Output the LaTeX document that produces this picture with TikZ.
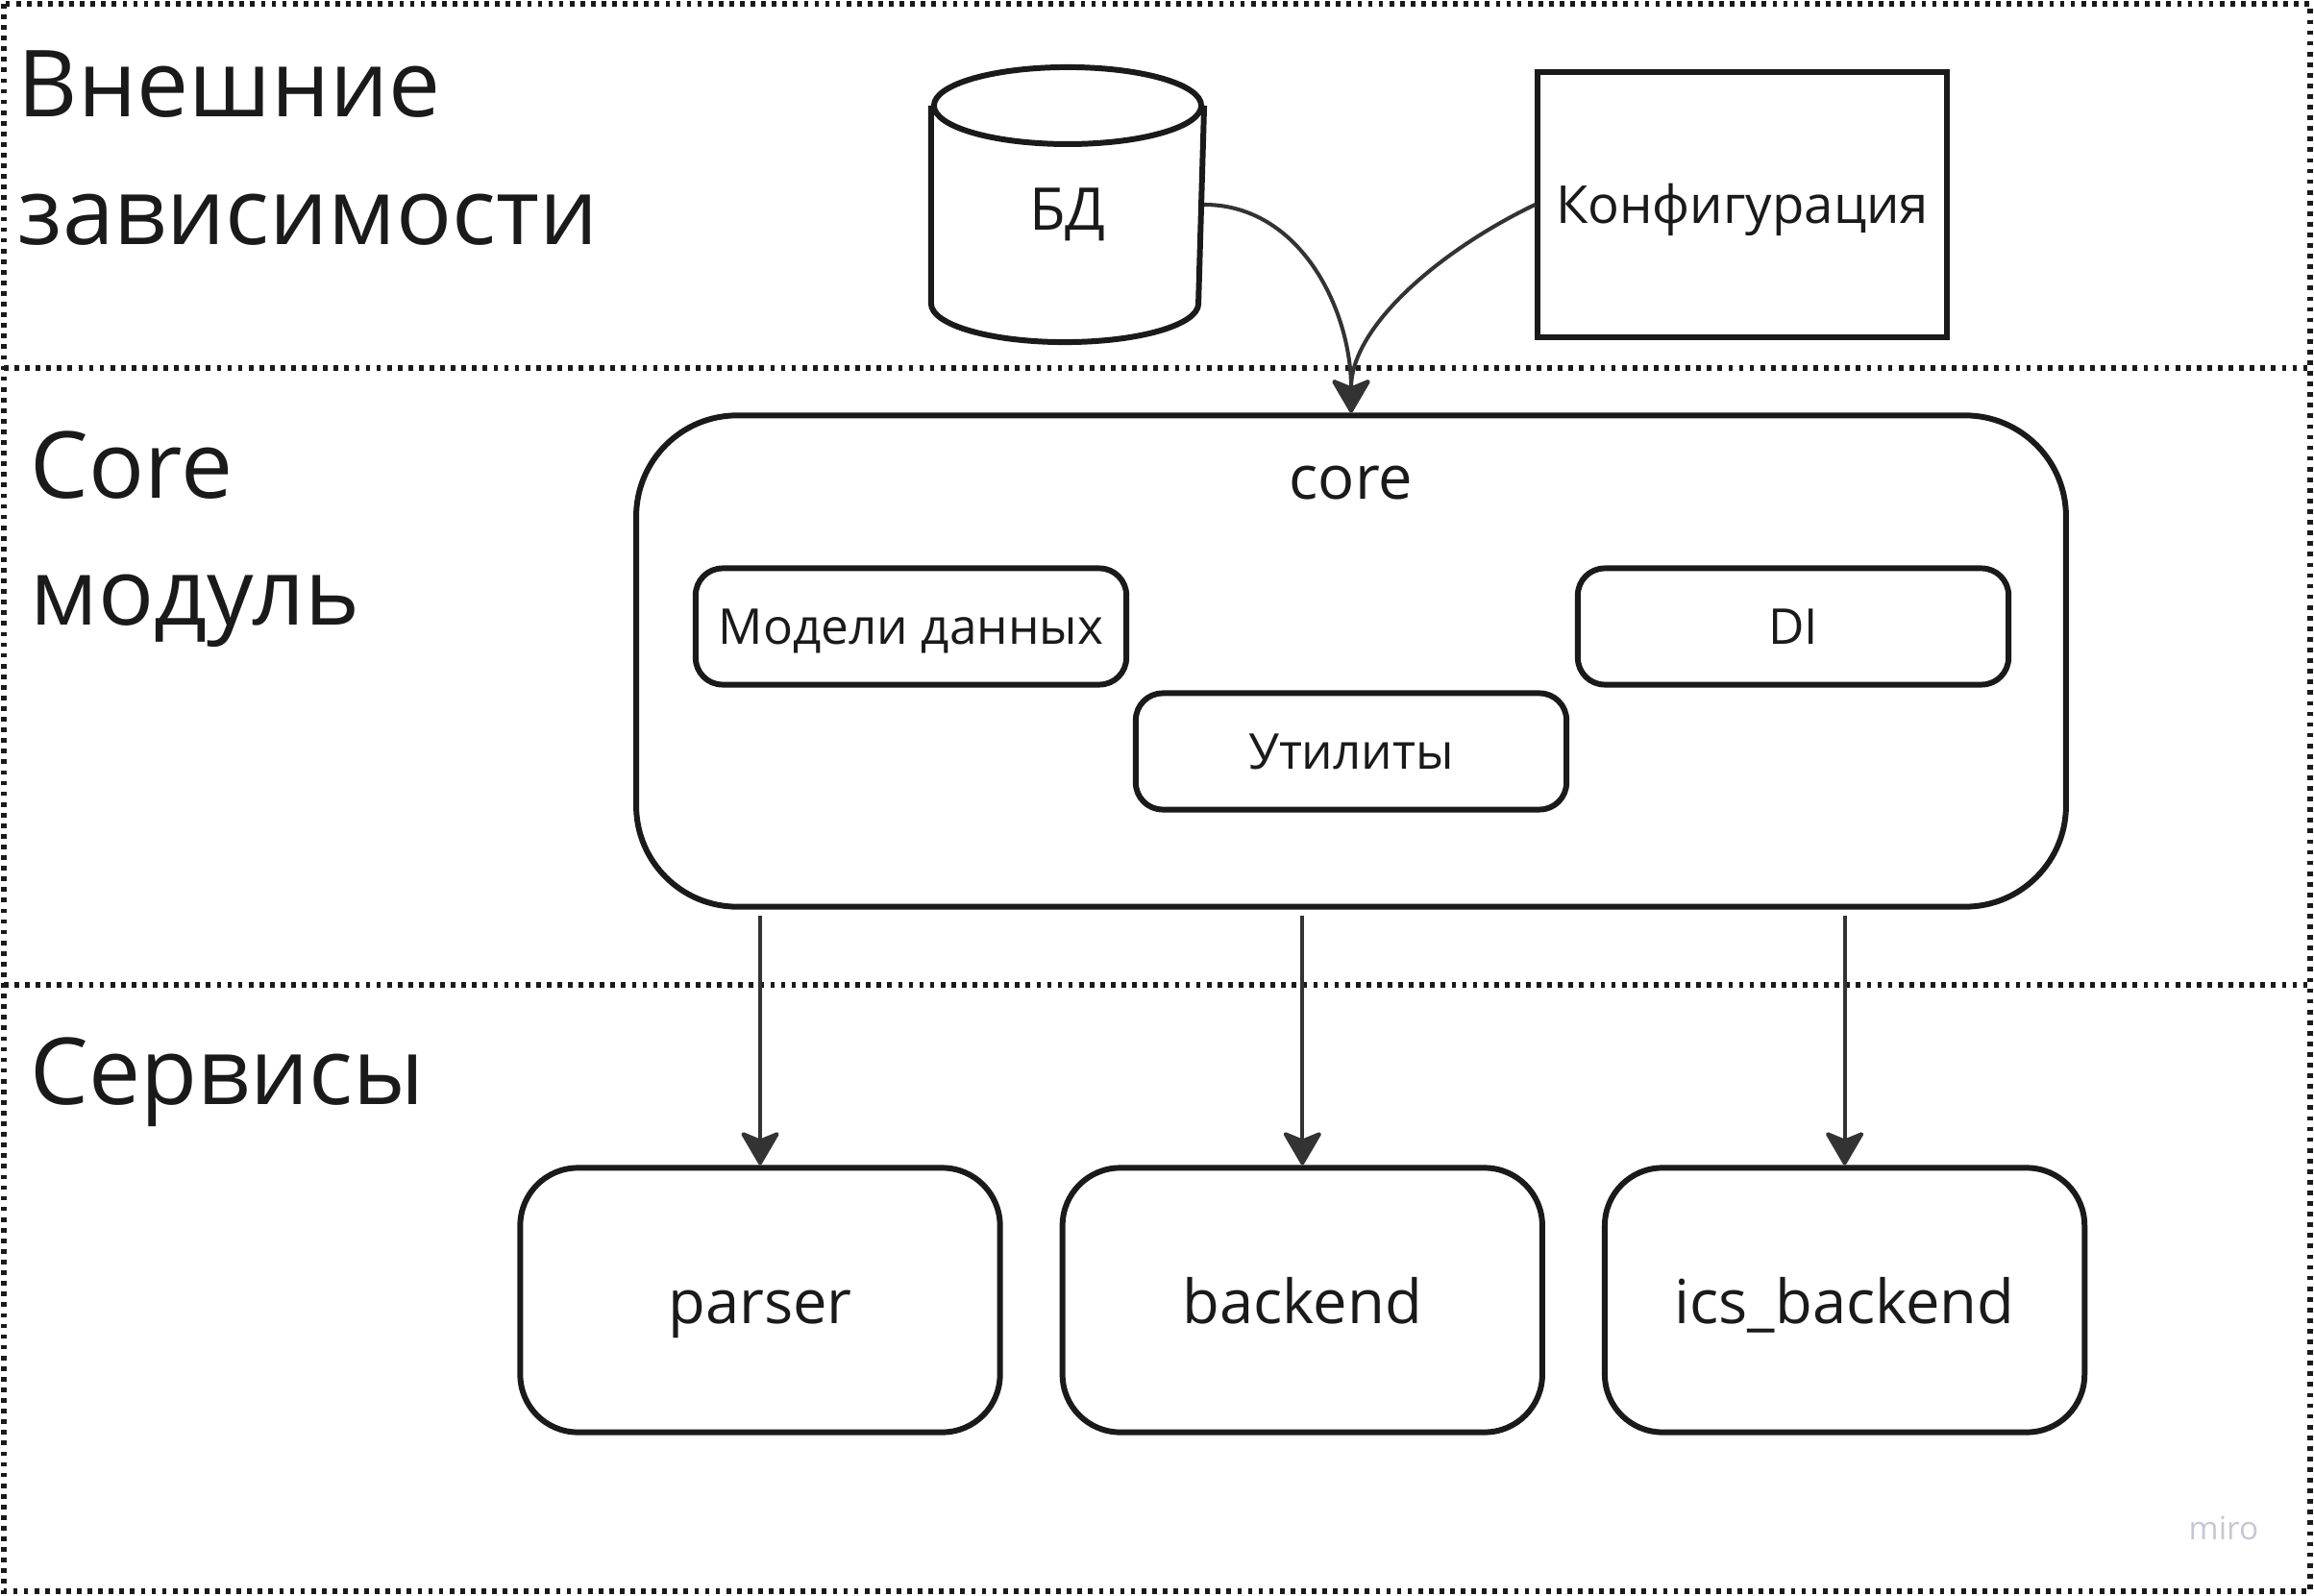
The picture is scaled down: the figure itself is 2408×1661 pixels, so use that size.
\documentclass[tikz,border=0pt]{standalone}
\usepackage{fontspec}
\setmainfont{Open Sans}
\usetikzlibrary{arrows.meta,positioning}
\definecolor{ink}{HTML}{1A1A1A}
\definecolor{linkgray}{HTML}{333333}
\definecolor{mirogray}{HTML}{C6C6D8}

\begin{document}
\begin{tikzpicture}[x=0.01cm,y=-0.01cm,
	zone/.style={draw=ink,line width=1.7pt,dash pattern=on 1.35pt off 1.8pt},
	caption/.style={anchor=base west,inner sep=0pt,text=ink,font=\fontsize{27.4}{36}\selectfont},
	block/.style={draw=ink,line width=1.7pt,rectangle,text=ink,font=\fontsize{15.5}{18}\selectfont,text height=11pt,text depth=0pt,inner sep=0pt},
	part/.style={block,rounded corners=0.28cm,minimum width=4.48cm,minimum height=1.21cm,font=\fontsize{14.6}{17}\selectfont,text height=10.4pt},
	service/.style={block,rounded corners=0.6cm,minimum width=4.99cm,minimum height=2.75cm,font=\fontsize{18}{22}\selectfont,text height=13.7pt},
	link/.style={draw=linkgray,line width=1.15pt,-{Stealth[round,length=0.38cm,width=0.44cm,inset=0.09cm]}},
	node distance=0.59cm]
\useasboundingbox (0,0) rectangle (2408,1661);

%-------------------------------------------------------------------------------
% Zones
%-------------------------------------------------------------------------------
\draw [zone] (4,4) rectangle (2404,1656);
\draw [zone] (4,383) -- (2404,383);
\draw [zone] (4,1025) -- (2404,1025);

\node (ext1)  [caption] at (18,122)  {Внешние};
\node (ext2)  [caption] at (18,255)  {зависимости};
\node (mod1)  [caption] at (31,519)  {Core};
\node (mod2)  [caption] at (31,650)  {модуль};
\node (serv1) [caption] at (31,1149) {Сервисы};

%-------------------------------------------------------------------------------
% External dependencies
%-------------------------------------------------------------------------------
\node (bd) [block,draw=none,minimum width=2.78cm,minimum height=2.8cm,
	font=\fontsize{17.4}{20}\selectfont,text height=15.3pt] at (1111,213) {БД};
\draw [draw=ink,line width=1.7pt] ([yshift=-0.4cm]bd.north west) -- ([yshift=0.4cm]bd.south west)
	arc [start angle=180,end angle=360,x radius=1.39cm,y radius=0.4cm] -- ([yshift=-0.4cm]bd.north east);
\draw [draw=ink,line width=1.7pt] ([yshift=-0.4cm]bd.north) ellipse [x radius=1.39cm,y radius=0.4cm];

\node (config) [block,minimum width=4.25cm,minimum height=2.75cm] at (1813,213) {Конфигурация};

%-------------------------------------------------------------------------------
% Core module
%-------------------------------------------------------------------------------
\node (core) [block,rounded corners=1.05cm,minimum width=14.87cm,minimum height=5.11cm] at (1406,688) {};
\node (corelbl) [text=ink,font=\fontsize{18}{22}\selectfont] at (1406,503) {core};

\node (models) [part] at (948,652)  {Модели данных};
\node (di)     [part] at (1866,652) {DI};
\node (utils)  [part] at (1406,782) {Утилиты};

\draw [link] (bd.east) .. controls +(100,0) and +(0,-107) .. (core.north);
\draw [link] (config.west) .. controls +(-98,47) and +(0,-90) .. (core.north);

%-------------------------------------------------------------------------------
% Services
%-------------------------------------------------------------------------------
\node (parser)  [service] at (791,1353) {parser};
\node (backend) [service,right=of parser]  {backend};
\node (ics)     [service,right=of backend] {ics\_backend};

\draw [link,shorten <=0.06cm] (parser.north |- core.south)  -- (parser.north);
\draw [link,shorten <=0.06cm] (backend.north |- core.south) -- (backend.north);
\draw [link,shorten <=0.06cm] (ics.north |- core.south)     -- (ics.north);

\node (miro) [text=mirogray,font=\fontsize{9.5}{11}\selectfont] at (2314,1590) {miro};
\end{tikzpicture}
\end{document}
